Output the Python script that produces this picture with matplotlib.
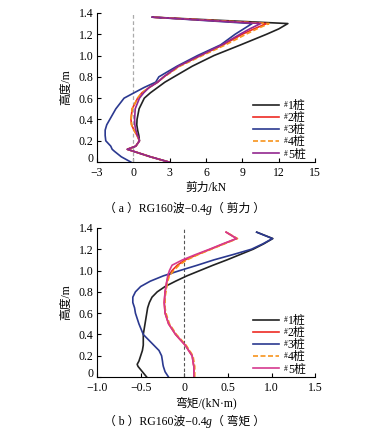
import matplotlib.pyplot as plt
import matplotlib.transforms as mtransforms
import numpy as np

plt.rcParams['font.family'] = ['Liberation Serif', 'Noto Sans CJK SC']

# shear force, kN (top chart)
h_shear = [0, 0.05, 0.1, 0.12, 0.15, 0.2, 0.25, 0.3, 0.35, 0.4, 0.5, 0.6, 0.65,
           0.7, 0.75, 0.8, 0.9, 1.0, 1.1, 1.2, 1.25, 1.3, 1.36]
v1 = [2.95, 1.4, 0.05, -0.5, 0.2, 0.5, 0.45, 0.35, 0.28, 0.3, 0.47, 0.9, 1.4,
      2.0, 2.6, 3.35, 4.86, 6.65, 8.85, 11.0, 12.0, 12.75, 1.57]
v2 = [2.95, 1.4, 0.05, -0.5, 0.2, 0.5, 0.3, 0.05, -0.15, -0.2, -0.1, 0.35, 0.7,
      1.3, 2.0, 2.5, 3.75, 5.55, 7.4, 9.0, 9.95, 11.0, 1.57]
v3 = [-0.2, -1.0, -1.55, -1.75, -1.87, -2.28, -2.33, -2.33, -2.2, -1.95, -1.45, -0.77, 0.05,
      0.88, 1.84, 2.1, 3.6, 5.3, 7.2, 8.4, 9.1, 9.8, 1.57]
v4 = [2.95, 1.4, 0.05, -0.5, 0.2, 0.5, 0.3, 0.05, -0.15, -0.2, -0.1, 0.35, 0.7,
      1.3, 2.0, 2.55, 3.85, 5.7, 7.6, 9.3, 10.2, 11.2, 1.57]
v5 = [2.95, 1.4, 0.05, -0.5, 0.2, 0.5, 0.35, 0.2, 0.12, 0.1, 0.15, 0.5, 0.85,
      1.3, 2.0, 2.5, 3.7, 5.5, 7.3, 8.8, 9.6, 10.5, 1.57]

# bending moment, kN·m (bottom chart)
h_mom = [0, 0.05, 0.1, 0.12, 0.15, 0.2, 0.25, 0.3, 0.4, 0.5, 0.6, 0.65, 0.7, 0.75,
         0.8, 0.85, 0.9, 0.95, 1.0, 1.05, 1.1, 1.15, 1.2, 1.25, 1.3, 1.36]
m1 = [-0.43, -0.48, -0.53, -0.54, -0.52, -0.5, -0.48, -0.47, -0.47, -0.45, -0.43, -0.42, -0.40, -0.37,
      -0.31, -0.22, -0.1, 0.03, 0.18, 0.33, 0.49, 0.64, 0.79, 0.91, 1.015, 0.83]
m3 = [-0.18, -0.22, -0.24, -0.245, -0.25, -0.26, -0.29, -0.35, -0.47, -0.52, -0.56, -0.57, -0.59, -0.59,
      -0.56, -0.5, -0.39, -0.24, -0.05, 0.15, 0.34, 0.56, 0.77, 0.9, 1.01, 0.83]
m2 = [0.11, 0.11, 0.11, 0.105, 0.1, 0.09, 0.05, 0.01, -0.1, -0.18, -0.22, -0.225, -0.23, -0.225,
      -0.22, -0.21, -0.2, -0.18, -0.14, -0.08, 0.01, 0.15, 0.30, 0.45, 0.60, 0.48]
m4 = [0.12, 0.12, 0.12, 0.115, 0.11, 0.1, 0.06, 0.02, -0.09, -0.17, -0.21, -0.22, -0.22, -0.22,
      -0.21, -0.2, -0.19, -0.17, -0.12, -0.06, 0.03, 0.16, 0.31, 0.46, 0.61, 0.48]
m5 = [0.11, 0.11, 0.11, 0.105, 0.1, 0.09, 0.05, 0.01, -0.1, -0.18, -0.22, -0.225, -0.23, -0.225,
      -0.22, -0.21, -0.2, -0.19, -0.17, -0.14, -0.02, 0.13, 0.29, 0.44, 0.60, 0.48]

labels = ['1桩', '2桩', '3桩', '4桩', '5桩']
colors = ['#222222', '#ee2b24', '#2b3990', '#f7941d']

fs = 8.5
lw = 1.2
fig = plt.figure(figsize=(3.69, 4.30), dpi=100)
ax1 = fig.add_axes([0.263, 0.623, 0.591, 0.347])
ax2 = fig.add_axes([0.263, 0.123, 0.591, 0.347])


def style(ax):
    for s in ['top', 'right']:
        ax.spines[s].set_visible(False)
    for s in ['left', 'bottom']:
        ax.spines[s].set_linewidth(0.8)
    ax.tick_params(direction='in', length=3, width=0.8, labelsize=fs)
    ax.tick_params(axis='x', pad=3.5)
    ax.tick_params(axis='y', pad=2.5)
    ax.set_ylim(0, 1.4)
    ax.set_yticks(np.arange(0, 1.41, 0.2))
    ax.set_yticklabels(['0'] + ['%.1f' % t for t in np.arange(0.2, 1.41, 0.2)])
    ax.set_ylabel('高度/m', fontsize=fs, labelpad=5)
    # lift the y "0" a little so it clears the first x label
    lab0 = ax.get_yticklabels()[0]
    lab0.set_transform(lab0.get_transform() +
                       mtransforms.ScaledTranslation(0, 3.5 / 72, fig.dpi_scale_trans))


def add_legend(ax):
    leg = ax.legend(loc='lower left', frameon=False, fontsize=fs, handlelength=2.2,
                    handletextpad=0.75, labelspacing=0.02, borderaxespad=0.0,
                    borderpad=0.0, bbox_to_anchor=(0.715, 0.01))
    return leg


def add_caption(y, pieces):
    r = fig.canvas.get_renderer()
    objs = []
    for txt, kw in pieces:
        t = fig.text(0, y, txt, fontsize=fs, ha='left', **kw)
        objs.append(t)
    widths = [t.get_window_extent(r).width / fig.bbox.width for t in objs]
    x = 0.5 - sum(widths) / 2
    for t, w in zip(objs, widths):
        t.set_x(x)
        x += w


# top: shear
ax1.axvline(0, color='#aaaaaa', ls='--', lw=0.9, dashes=(3, 2))
ax1.plot(v1, h_shear, color=colors[0], lw=lw, label=labels[0])
ax1.plot(v2, h_shear, color=colors[1], lw=lw, label=labels[1])
ax1.plot(v3, h_shear, color=colors[2], lw=lw, label=labels[2])
ax1.plot(v4, h_shear, color=colors[3], lw=lw, ls='--', dashes=(3, 1.5), label=labels[3])
ax1.plot(v5, h_shear, color='#92278f', lw=lw, label=labels[4])
ax1.set_xlim(-3, 15)
ax1.set_xticks([-3, 0, 3, 6, 9, 12, 15])
ax1.set_xticklabels(['\u22123', '0', '3', '6', '9', '12', '15'])
style(ax1)
ax1.set_xlabel('剪力/kN', fontsize=fs, labelpad=2)
leg1 = add_legend(ax1)

# bottom: moment
ax2.axvline(0, color='#555555', ls='--', lw=0.8, dashes=(3, 2))
ax2.plot(m1, h_mom, color=colors[0], lw=lw, label=labels[0])
ax2.plot(m2, h_mom, color=colors[1], lw=lw, label=labels[1])
ax2.plot(m3, h_mom, color=colors[2], lw=lw, label=labels[2])
ax2.plot(m4, h_mom, color=colors[3], lw=lw, ls='--', dashes=(3, 1.5), label=labels[3])
ax2.plot(m5, h_mom, color='#d6398f', lw=lw, label=labels[4])
ax2.set_xlim(-1.0, 1.5)
ax2.set_xticks([-1.0, -0.5, 0, 0.5, 1.0, 1.5])
ax2.set_xticklabels(['\u22121.0', '\u22120.5', '0', '0.5', '1.0', '1.5'])
style(ax2)
ax2.set_xlabel('弯矩/(kN·m)', fontsize=fs, labelpad=2)
leg2 = add_legend(ax2)

add_caption(0.508, [('（ a ）RG160波\u22120.4', {}), ('g', {'style': 'italic'}), ('（ 剪力 ）', {})])
add_caption(0.012, [('（ b ）RG160波\u22120.4', {}), ('g', {'style': 'italic'}), ('（ 弯矩 ）', {})])

# superscript '#' in front of legend labels
fig.canvas.draw()
r = fig.canvas.get_renderer()
inv = fig.transFigure.inverted()
for leg in [leg1, leg2]:
    for t in leg.get_texts():
        bb = t.get_window_extent(r)
        x, y = inv.transform((bb.x0 + 0.3, bb.y1 - 1.0))
        fig.text(x, y, '#', fontsize=5.5, ha='right', va='top')

fig.savefig('out.png', dpi=100)
